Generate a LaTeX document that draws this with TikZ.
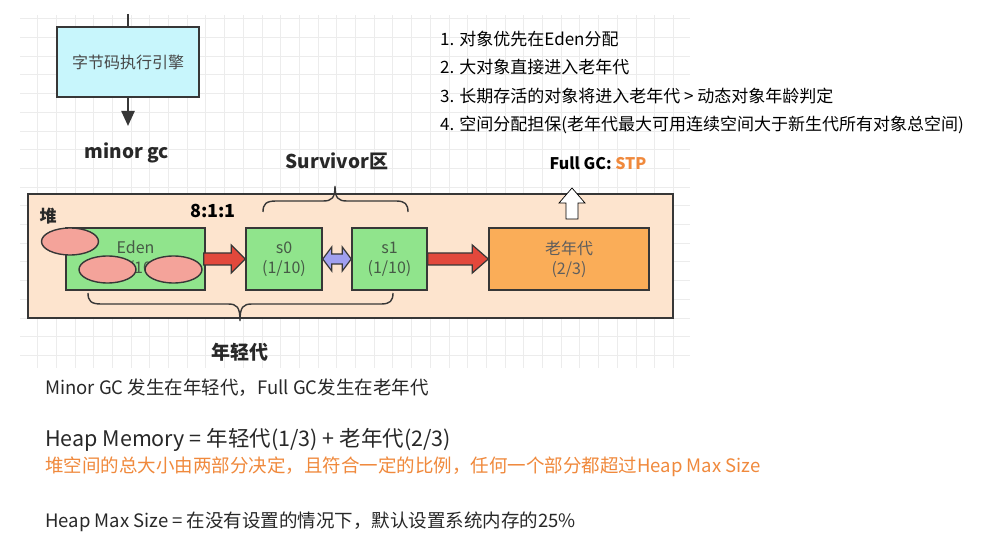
\documentclass[tikz,border=0pt]{standalone}
\usepackage{fontspec}
\setmainfont{Noto Sans CJK SC}
\usetikzlibrary{calc,arrows.meta,shapes.geometric}
\definecolor{gridc}{RGB}{236,236,236}
\definecolor{boxline}{RGB}{55,55,55}
\definecolor{cyanfill}{RGB}{200,246,252}
\definecolor{heapfill}{RGB}{253,228,206}
\definecolor{greenfill}{RGB}{144,228,140}
\definecolor{salmon}{RGB}{244,163,154}
\definecolor{redarr}{RGB}{226,72,60}
\definecolor{bluearr}{RGB}{160,160,240}
\definecolor{oldfill}{RGB}{250,173,88}
\definecolor{orangetxt}{RGB}{240,137,60}
\definecolor{txt}{RGB}{40,40,40}
\definecolor{boxtxt}{RGB}{70,90,70}
\begin{document}
\begin{tikzpicture}[x=1pt,y=-1pt,
  box/.style={draw=boxline, line width=1.4pt, inner sep=0pt, align=center},
  gen/.style={box, fill=greenfill, minimum height=62pt, text=boxtxt, font=\fontsize{16}{20}\selectfont},
  egg/.style={draw=boxline, line width=1.4pt, fill=salmon, ellipse, minimum width=57pt, minimum height=27pt, inner sep=0pt},
  lbl/.style={font=\fontsize{19}{22}\selectfont\bfseries, text=txt, inner sep=0pt},
  item/.style={anchor=west, font=\fontsize{17}{20}\selectfont, text=black, inner sep=0pt},
  note/.style={anchor=west, font=\fontsize{18.5}{22}\selectfont, text=txt, inner sep=0pt},
  blk/.style={draw=boxline, line width=1.2pt, line join=miter}
]
\useasboundingbox (0,0) rectangle (991,553);
\fill[white] (0,0) rectangle (991,553);
% faint grid
\draw[gridc, line width=0.6pt] (20,15) grid[step=18.7pt] (690,368);

% engine
\node[box, fill=cyanfill, minimum width=142pt, minimum height=70pt, text=txt!85, font=\fontsize{16}{20}\selectfont] (engine) at (128,62) {字节码执行引擎};
\coordinate (intop) at (128,14);
\coordinate (gcend) at (128,126);
\draw[boxline, line width=2.4pt] (intop) -- (engine.north);
\draw[boxline, line width=2.4pt, -{Triangle[length=15pt,width=13pt]}] (engine.south) -- (gcend);
\node[lbl] (minorgc) at (127,153) {minor gc};
\node[lbl] (surv) at (337,161) {Survivor区};

% heap
\node[box, fill=heapfill, minimum width=645pt, minimum height=124pt] (heap) at (350.5,256) {};
\node[lbl, font=\fontsize{17}{20}\selectfont\bfseries] (dui) at (48,216) {堆};
\node[lbl, text=black, font=\fontsize{18}{20}\selectfont\bfseries] (ratio) at (213,211) {8:1:1};

% generations
\node[gen, minimum width=139pt] (eden) at (135.5,259) {Eden\\(8/10)};
\node[gen, minimum width=76pt] (s0) at (284,259) {s0\\(1/10)};
\node[gen, minimum width=75pt] (s1) at (389.5,259) {s1\\(1/10)};
\node[box, fill=oldfill, minimum width=160pt, minimum height=62pt, text=txt!75, font=\fontsize{16}{20}\selectfont] (old) at (569,259) {老年代\\(2/3)};

% objects
\node[egg] (o1) at (70,241.5) {};
\node[egg] (o2) at (107.5,269.5) {};
\node[egg] (o3) at (173.5,269.5) {};

% red arrows
\draw[blk, fill=redarr] ($(eden.east)+(-2,-6)$) -- ($(s0.west)+(-14,-6)$) -- ($(s0.west)+(-14,-14)$) -- (s0.west) -- ($(s0.west)+(-14,14)$) -- ($(s0.west)+(-14,6)$) -- ($(eden.east)+(-2,6)$) -- cycle;
\draw[blk, fill=redarr] ($(s1.east)+(0,-6)$) -- ($(old.west)+(-16,-6)$) -- ($(old.west)+(-16,-14)$) -- (old.west) -- ($(old.west)+(-16,14)$) -- ($(old.west)+(-16,6)$) -- ($(s1.east)+(0,6)$) -- cycle;
% blue double arrow
\draw[blk, fill=bluearr] (s0.east) -- ($(s0.east)+(9,-12)$) -- ($(s0.east)+(9,-5)$) -- ($(s1.west)+(-9,-5)$) -- ($(s1.west)+(-9,-12)$) -- (s1.west) -- ($(s1.west)+(-9,12)$) -- ($(s1.west)+(-9,5)$) -- ($(s0.east)+(9,5)$) -- ($(s0.east)+(9,12)$) -- cycle;

% braces
\draw[boxline, line width=1.4pt] (263,212) .. controls (263,204) and (266,201) .. (276,201) -- (323,201) .. controls (332,201) and (335,198) .. (335,186) .. controls (335,198) and (338,201) .. (347,201) -- (396,201) .. controls (405,201) and (408,204) .. (408,212);
\draw[boxline, line width=1.4pt] (88,293) .. controls (88,301) and (91,304) .. (101,304) -- (228,304) .. controls (237,304) and (240,307) .. (240,321) .. controls (240,307) and (243,304) .. (252,304) -- (381,304) .. controls (390,304) and (393,301) .. (393,293);
\node[lbl] (young) at (240,352) {年轻代};

% full gc
\coordinate (fgbase) at (572,219);
\draw[black, line width=0.7pt, fill=white] ($(fgbase)+(-6,0)$) -- ($(fgbase)+(-6,-16)$) -- ($(fgbase)+(-13,-16)$) -- ($(fgbase)+(0,-31)$) -- ($(fgbase)+(13,-16)$) -- ($(fgbase)+(6,-16)$) -- ($(fgbase)+(6,0)$) -- cycle;
\node[lbl, text=black, font=\fontsize{16}{20}\selectfont\bfseries] (fullgc) at (598,163) {Full GC: \textcolor{orangetxt}{STP}};

% list
\node[item] (l1) at (440,39) {1. 对象优先在Eden分配};
\node[item] (l2) at (440,67) {2. 大对象直接进入老年代};
\node[item] (l3) at (440,96) {3. 长期存活的对象将进入老年代 > 动态对象年龄判定};
\node[item] (l4) at (440,125) {4. 空间分配担保(老年代最大可用连续空间大于新生代所有对象总空间)};

% notes
\node[note] (n1) at (45,388) {Minor GC 发生在年轻代，Full GC发生在老年代};
\node[note, font=\fontsize{21.5}{26}\selectfont] (n2) at (45,440) {Heap Memory = 年轻代(1/3) + 老年代(2/3)};
\node[note, text=orangetxt] (n3) at (45,467) {堆空间的总大小由两部分决定，且符合一定的比例，任何一个部分都超过Heap Max Size};
\node[note] (n4) at (45,522) {Heap Max Size = 在没有设置的情况下，默认设置系统内存的25\%};
\end{tikzpicture}
\end{document}
